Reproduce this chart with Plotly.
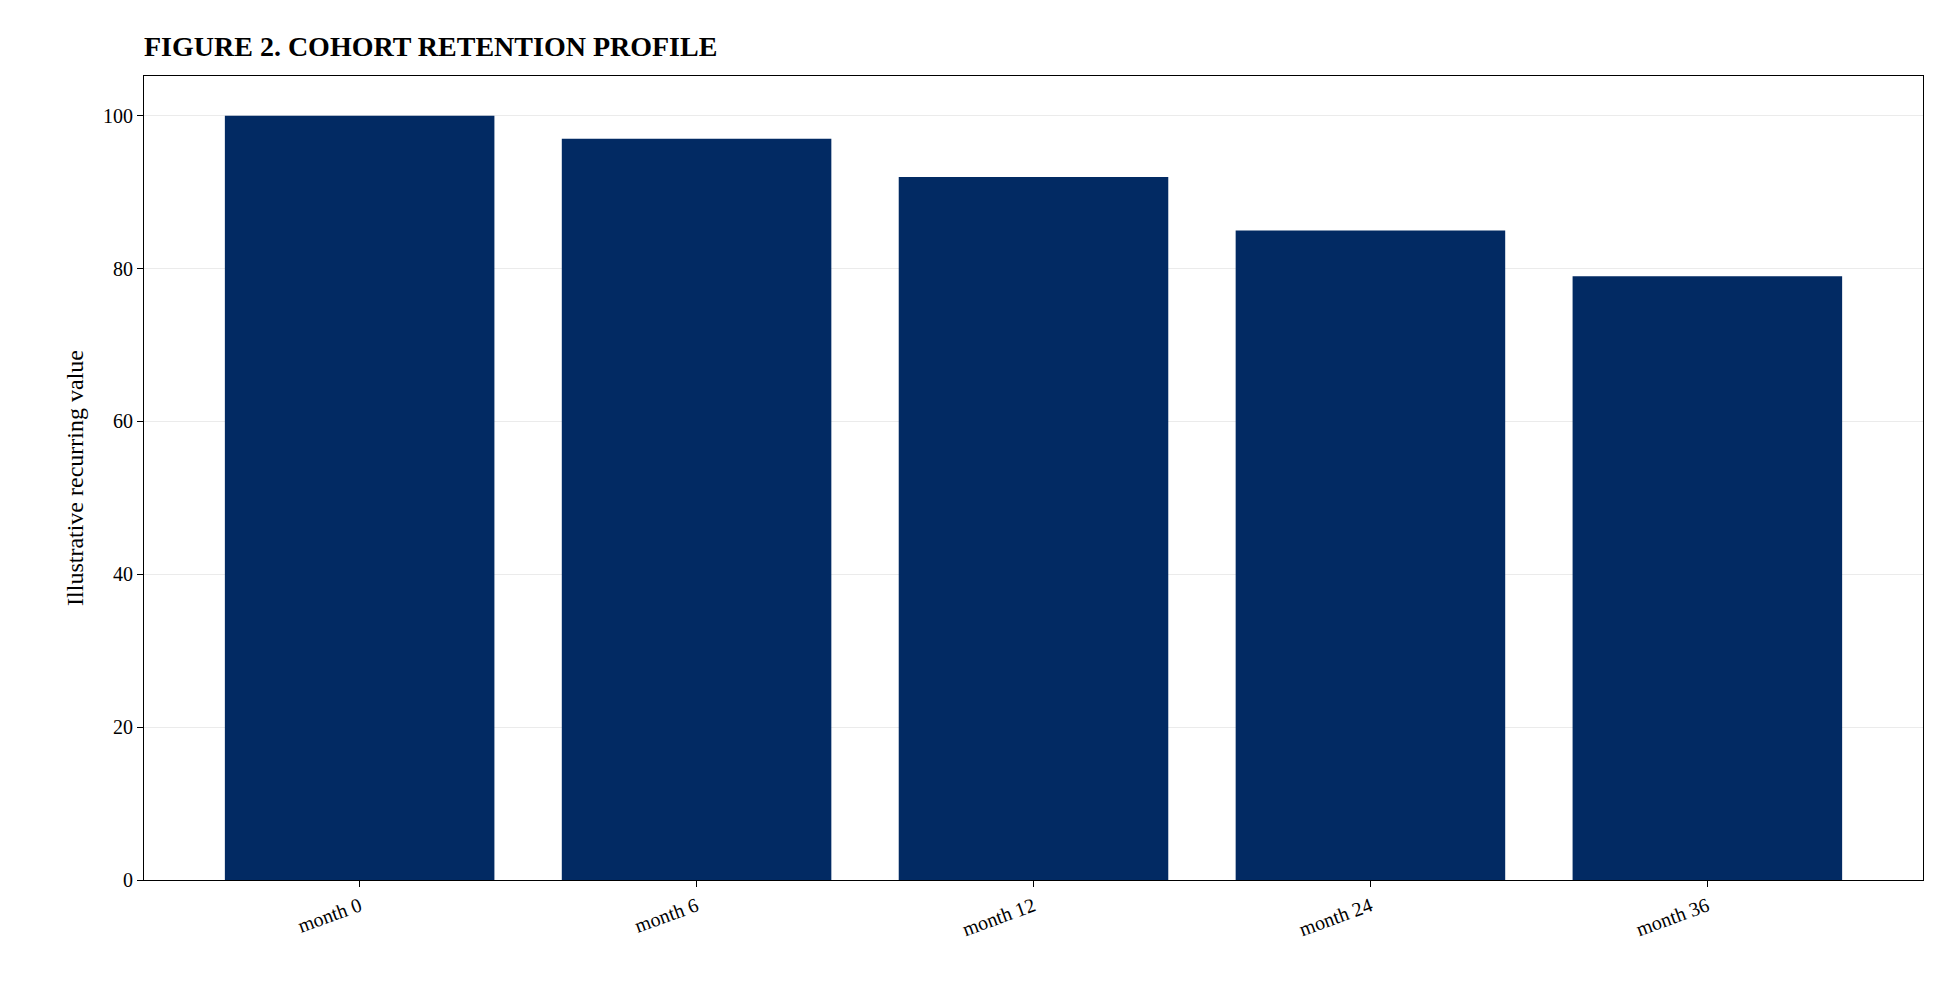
import plotly.graph_objects as go

categories = ["month 0", "month 6", "month 12", "month 24", "month 36"]
values = [100, 97, 92, 85, 79]
y_ticks = [0, 20, 40, 60, 80, 100]

fig = go.Figure(go.Bar(x=categories, y=values, marker=dict(color="#022a63", line=dict(width=0)), width=0.8))
fig.update_layout(
    width=1939, height=983, plot_bgcolor="white", paper_bgcolor="white",
    margin=dict(l=136, r=24, t=68, b=111),
    font=dict(family="Liberation Serif", size=20, color="black"),
    title=dict(text="<b>FIGURE 2. COHORT RETENTION PROFILE</b>", x=136/1939, xanchor="left",
               y=1-38/983, yanchor="middle", font=dict(size=28)),
    showlegend=False,
)
fig.update_xaxes(range=[-0.64, 4.64], tickangle=-20, showline=True, linecolor="black", mirror=True,
                 ticks="outside", ticklen=6, tickcolor="black", showgrid=False)
fig.update_yaxes(range=[0, 105.2], tickvals=y_ticks, showline=True, linecolor="black", mirror=True,
                 ticks="outside", ticklen=6, tickcolor="black", gridcolor="#ebebeb", zeroline=False,
                 title=dict(text="Illustrative recurring value", standoff=12))
fig.write_html("out.html")
